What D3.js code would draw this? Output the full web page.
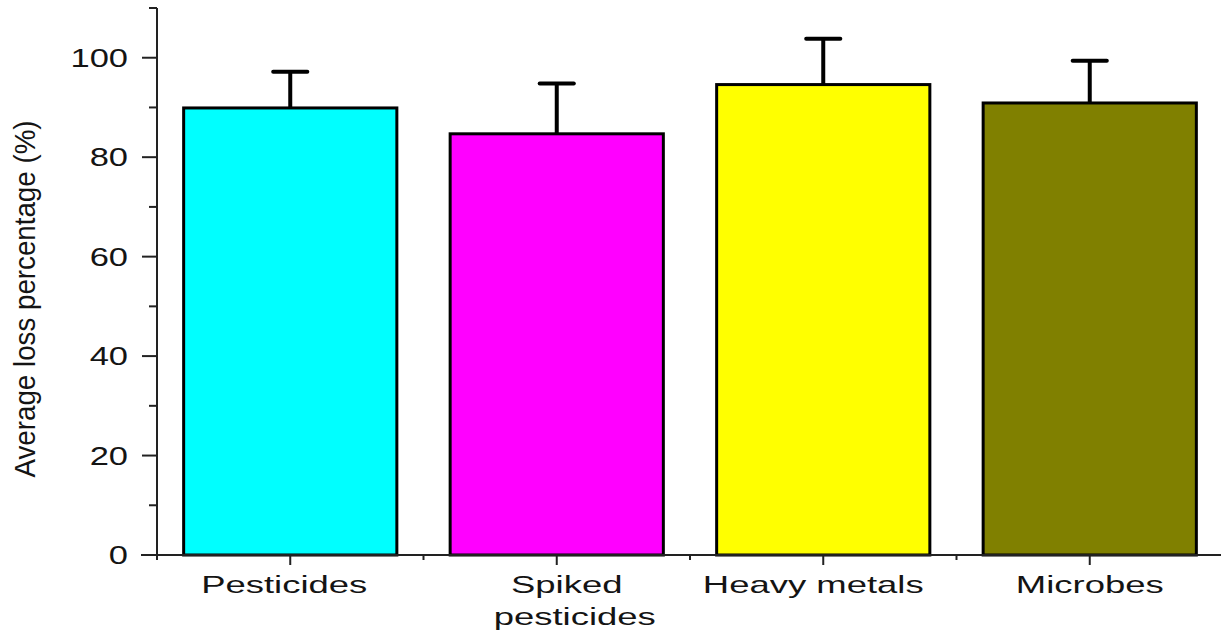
<!DOCTYPE html>
<html><head><meta charset="utf-8">
<script src="https://cdn.jsdelivr.net/npm/d3@7"></script>
<style>
body{margin:0;background:#fff}
text{font-family:"Liberation Sans",Arial,Helvetica,sans-serif;fill:#141414}
</style>
</head><body>
<svg id="c" width="1221" height="632"></svg>
<script>
const categories = ["Pesticides", "Spiked pesticides", "Heavy metals", "Microbes"];
const labelLines = [["Pesticides"], ["Spiked", "pesticides"], ["Heavy metals"], ["Microbes"]];
const means = [89.9, 84.7, 94.6, 90.9];
const errors = [7.3, 10.1, 9.2, 8.5];
const colors = ["#00FFFF", "#FF00FF", "#FFFF00", "#808000"];
const yTicks = [0, 20, 40, 60, 80, 100];
const yMinorTicks = [10, 30, 50, 70, 90, 110];
const yTitle = "Average loss percentage (%)";

const svg = d3.select("#c");
const x = d3.scaleLinear().domain([0.5, 4.5]).range([157, 1223]);
const y = d3.scaleLinear().domain([0, 110]).range([555, 8]);
const pos = categories.map((c, i) => i + 1);
const halfW = 0.4;
const axisColor = "#222";

// bars
svg.selectAll("rect.bar").data(categories).enter().append("rect")
  .attr("class", "bar")
  .attr("x", (d, i) => x(pos[i] - halfW))
  .attr("width", (d, i) => x(pos[i] + halfW) - x(pos[i] - halfW))
  .attr("y", (d, i) => y(means[i]))
  .attr("height", (d, i) => y(0) - y(means[i]))
  .attr("fill", (d, i) => colors[i])
  .attr("stroke", "#000").attr("stroke-width", 3);

// error bars (upper only)
const capHalf = 0.064;
const eb = svg.selectAll("g.err").data(categories).enter().append("g").attr("class", "err");
eb.append("line")
  .attr("x1", (d, i) => x(pos[i])).attr("x2", (d, i) => x(pos[i]))
  .attr("y1", (d, i) => y(means[i])).attr("y2", (d, i) => y(means[i] + errors[i]))
  .attr("stroke", "#000").attr("stroke-width", 4);
eb.append("line")
  .attr("x1", (d, i) => x(pos[i] - capHalf)).attr("x2", (d, i) => x(pos[i] + capHalf))
  .attr("y1", (d, i) => y(means[i] + errors[i])).attr("y2", (d, i) => y(means[i] + errors[i]))
  .attr("stroke", "#000").attr("stroke-width", 4).attr("stroke-linecap", "round");

// y axis
const yAxis = svg.append("g").attr("transform", `translate(${x(0.5)},0)`);
yAxis.append("line").attr("x1", 0).attr("x2", 0)
  .attr("y1", y(110)).attr("y2", y(0) + 5)
  .attr("stroke", axisColor).attr("stroke-width", 2);
yAxis.selectAll("line.maj").data(yTicks).enter().append("line")
  .attr("x1", -15).attr("x2", 0).attr("y1", d => y(d)).attr("y2", d => y(d))
  .attr("stroke", axisColor).attr("stroke-width", 2);
yAxis.selectAll("line.min").data(yMinorTicks).enter().append("line")
  .attr("x1", -8).attr("x2", 0).attr("y1", d => y(d)).attr("y2", d => y(d))
  .attr("stroke", axisColor).attr("stroke-width", 2);
yAxis.selectAll("text.tl").data(yTicks).enter().append("text")
  .attr("text-anchor", "end").attr("dy", "0.36em")
  .attr("font-size", 25)
  .attr("transform", d => `translate(-29,${y(d)}) scale(1.38,1)`)
  .text(d => d);

// x axis
const xAxis = svg.append("g");
xAxis.append("line").attr("x1", x(0.5) - 16).attr("x2", 1221)
  .attr("y1", y(0)).attr("y2", y(0))
  .attr("stroke", axisColor).attr("stroke-width", 2);
xAxis.selectAll("line.maj").data(pos).enter().append("line")
  .attr("x1", d => x(d)).attr("x2", d => x(d))
  .attr("y1", y(0)).attr("y2", y(0) + 10)
  .attr("stroke", axisColor).attr("stroke-width", 2);
xAxis.selectAll("line.min").data([0.5, 1.5, 2.5, 3.5]).enter().append("line")
  .attr("x1", d => x(d)).attr("x2", d => x(d))
  .attr("y1", y(0)).attr("y2", y(0) + 5)
  .attr("stroke", axisColor).attr("stroke-width", 2);

const lblOffsets = [-6, 10, -10, 0];
labelLines.forEach((lines, i) => {
  lines.forEach((t, j) => {
    xAxis.append("text")
      .attr("text-anchor", "middle")
      .attr("font-size", 24)
      .attr("transform", `translate(${x(pos[i]) + lblOffsets[i] + (j ? 8 : 0)},${y(0) + 38 + j * 32}) scale(1.52,1)`)
      .text(t);
  });
});

// y title
svg.append("text")
  .attr("text-anchor", "middle")
  .attr("font-size", 22)
  .attr("textLength", 357).attr("lengthAdjust", "spacingAndGlyphs")
  .attr("transform", `translate(35,299) rotate(-90) scale(1,1.3)`)
  .text(yTitle);
</script>
</body></html>
